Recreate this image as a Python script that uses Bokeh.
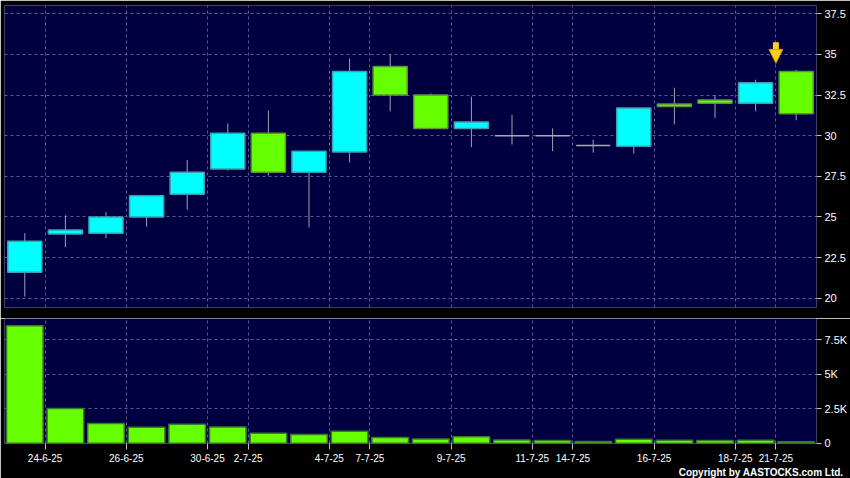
from bokeh.plotting import figure
from bokeh.layouts import column
from bokeh.models import Range1d, FixedTicker, ColumnDataSource, Arrow, NormalHead, Title
from bokeh.embed import file_html
from bokeh.resources import INLINE

# ---------------- data ----------------
dates = ["23-6-25", "24-6-25", "25-6-25", "26-6-25", "27-6-25", "30-6-25", "2-7-25", "3-7-25",
         "4-7-25", "7-7-25", "8-7-25", "9-7-25", "10-7-25", "11-7-25", "14-7-25", "15-7-25",
         "16-7-25", "17-7-25", "18-7-25", "21-7-25"]
opens = [21.6, 23.95, 24.0, 25.0, 26.4, 27.95, 30.15, 27.75, 29.0, 34.25,
         32.5, 30.45, 30.0, 30.0, 29.4, 29.35, 31.95, 32.2, 32.0, 33.95]
highs = [24.0, 25.1, 25.3, 26.3, 28.5, 30.75, 31.55, 29.05, 34.75, 35.0,
         32.6, 32.4, 31.3, 30.45, 29.75, 31.7, 32.95, 32.5, 33.45, 34.05]
lows = [20.1, 23.15, 23.7, 24.4, 25.45, 27.85, 27.55, 24.35, 28.35, 31.5,
        30.45, 29.3, 29.45, 29.05, 28.95, 28.9, 30.7, 31.1, 31.5, 30.95]
closes = [23.5, 24.2, 25.0, 26.3, 27.75, 30.15, 27.75, 29.05, 33.95, 32.5,
          30.45, 30.85, 30.0, 30.0, 29.4, 31.7, 31.8, 32.0, 33.25, 31.35]
volumes = [8510, 2520, 1420, 1150, 1370, 1180, 720, 630, 870, 410,
           310, 460, 240, 190, 120, 290, 220, 190, 220, 100]

xtick_labels = ["24-6-25", "26-6-25", "30-6-25", "2-7-25", "4-7-25", "7-7-25",
                "9-7-25", "11-7-25", "14-7-25", "16-7-25", "18-7-25", "21-7-25"]
price_ticks = [20, 22.5, 25, 27.5, 30, 32.5, 35, 37.5]
price_tick_labels = ["20", "22.5", "25", "27.5", "30", "32.5", "35", "37.5"]
vol_ticks = [0, 2500, 5000, 7500]
vol_tick_labels = ["0", "2.5K", "5K", "7.5K"]

# marker arrow (boundary before last session, price span)
marker_x = 18.5
marker_top = 35.75
marker_tip = 34.45

# ---------------- styles ----------------
NAVY = "#000040"
UP = "#00FFFF"
DOWN = "#66FF00"
GRID = "#5a5a9a"
FONT = "Liberation Sans"

idx = list(range(len(dates)))
tops = [max(o, c) for o, c in zip(opens, closes)]
bots = [min(o, c) for o, c in zip(opens, closes)]
fills = [UP if c > o else (DOWN if c < o else "#a8a8b8") for o, c in zip(opens, closes)]
lines = [("#3f9fb0" if c > o else ("#5f8f3f" if c < o else "#a8a8b8")) for o, c in zip(opens, closes)]

src = ColumnDataSource(dict(x=idx, o=opens, h=highs, l=lows, c=closes,
                            top=tops, bot=bots, fill=fills, line=lines, vol=volumes))

tick_pos = [dates.index(d) - 0.5 for d in xtick_labels]

xr = Range1d(-0.5, len(dates) - 0.5)

# ---------------- price panel ----------------
p = figure(width=850, height=318, x_range=xr, y_range=Range1d(19.43, 38.01),
           y_axis_location="right", x_axis_location=None,
           output_backend="svg", toolbar_location=None,
           background_fill_color=NAVY, border_fill_color="#000000",
           outline_line_color=None,
           min_border_left=4, min_border_right=34, min_border_top=5, min_border_bottom=11)

p.segment(x0="x", y0="l", x1="x", y1="h", source=src, line_color="#a0a0b0", line_width=1)
p.vbar(x="x", width=0.84, top="top", bottom="bot", source=src,
       fill_color="fill", line_color="line", line_width=1.5)

p.add_layout(Arrow(x_start=marker_x, y_start=marker_top, x_end=marker_x, y_end=marker_tip,
                   line_color="#F8D020", line_width=6,
                   end=NormalHead(size=14, fill_color="#F8D020", line_color="#C89000", line_width=1)))

p.xgrid.ticker = FixedTicker(ticks=tick_pos)
p.ygrid.ticker = FixedTicker(ticks=price_ticks)
for g in (p.xgrid, p.ygrid):
    g.grid_line_color = GRID
    g.grid_line_dash = "3 3"
    g.grid_line_width = 1

ya = p.yaxis[0]
ya.ticker = FixedTicker(ticks=price_ticks)
ya.major_label_overrides = {t: s for t, s in zip(price_ticks, price_tick_labels)}
ya.axis_line_color = None
ya.major_tick_line_color = "#c0c0c0"
ya.major_tick_in = 0
ya.major_tick_out = 5
ya.minor_tick_line_color = None
ya.major_label_text_color = "#ffffff"
ya.major_label_text_font = FONT
ya.major_label_text_font_size = "11px"
ya.major_label_standoff = 3

# ---------------- volume panel ----------------
v = figure(width=850, height=160, x_range=xr, y_range=Range1d(-20, 9036),
           y_axis_location="right",
           output_backend="svg", toolbar_location=None,
           background_fill_color=NAVY, border_fill_color="#000000",
           outline_line_color=None,
           min_border_left=4, min_border_right=34, min_border_top=0, min_border_bottom=35)

v.vbar(x="x", width=0.9, top="vol", bottom=0, source=src,
       fill_color=DOWN, line_color="#3a7a2a", line_width=1.5)

v.xgrid.ticker = FixedTicker(ticks=tick_pos)
v.ygrid.ticker = FixedTicker(ticks=vol_ticks)
for g in (v.xgrid, v.ygrid):
    g.grid_line_color = GRID
    g.grid_line_dash = "3 3"
    g.grid_line_width = 1

vy = v.yaxis[0]
vy.ticker = FixedTicker(ticks=vol_ticks)
vy.major_label_overrides = {t: s for t, s in zip(vol_ticks, vol_tick_labels)}
vx = v.xaxis[0]
vx.ticker = FixedTicker(ticks=tick_pos)
vx.major_label_overrides = {t: s for t, s in zip(tick_pos, xtick_labels)}
for ax in (vy, vx):
    ax.axis_line_color = None
    ax.major_tick_line_color = "#c0c0c0"
    ax.major_tick_in = 0
    ax.major_tick_out = 5
    ax.minor_tick_line_color = None
    ax.major_label_text_color = "#ffffff"
    ax.major_label_text_font = FONT
    ax.major_label_standoff = 3
vy.major_label_text_font_size = "11px"
vx.major_label_text_font_size = "10px"
vx.major_tick_out = 6
vx.major_label_standoff = 4

cr = Title(text="Copyright by AASTOCKS.com Ltd.", align="right",
           text_font=FONT, text_font_size="10px", text_font_style="bold",
           text_color="#ffffff", offset=-27, standoff=0)
v.add_layout(cr, "below")

layout = column(p, v, spacing=0)

html = file_html(layout, INLINE)
html = html.replace("<body>", '<body style="margin:0;background:#000000;">', 1)
open("out.html", "w").write(html)
